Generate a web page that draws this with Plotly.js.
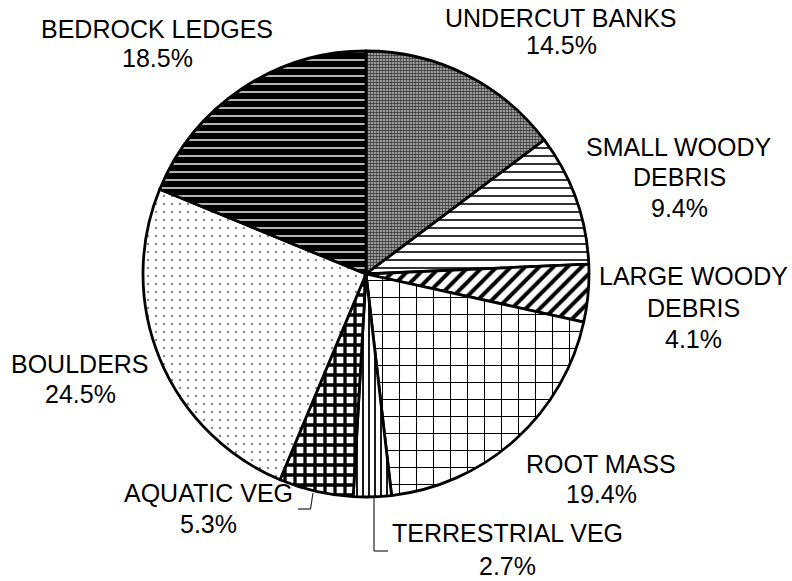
<!DOCTYPE html>
<html>
<head>
<meta charset="utf-8">
<script src="https://cdn.plot.ly/plotly-3.0.1.min.js"></script>
<style>
  html, body { margin: 0; padding: 0; background: #fff; }
  #chart { width: 792px; height: 581px; }
</style>
</head>
<body>
<div id="chart"></div>
<script>
// ---- data ----
const categories = ['UNDERCUT BANKS', 'SMALL WOODY DEBRIS', 'LARGE WOODY DEBRIS', 'ROOT MASS',
                    'TERRESTRIAL VEG', 'AQUATIC VEG', 'BOULDERS', 'BEDROCK LEDGES'];
const values = [14.5, 9.4, 4.1, 19.4, 2.7, 5.3, 24.5, 18.5];
const labelLines = [['UNDERCUT BANKS'], ['SMALL WOODY', 'DEBRIS'], ['LARGE WOODY', 'DEBRIS'],
                    ['ROOT MASS'], ['TERRESTRIAL VEG'], ['AQUATIC VEG'], ['BOULDERS'], ['BEDROCK LEDGES']];

// ---- styles / layout config ----
const W = 792, H = 581;
const cx = 366, cy = 274, R = 223;
const patShape = ['.', '-', '/', '+', '|', '+', '.', '-'];
const patFg    = ['#333333', '#000', '#000', '#000', '#000', '#000', '#8a8a8a', '#e0e0e0'];
const patBg    = ['#bdbdbd', '#fff', '#fff', '#fff', '#fff', '#fff', '#fff', '#000'];
const patSize  = [3, 8, 10, 17, 6, 10, 8, 8];
const patSol   = [0.55, 0.2, 0.4, 0.12, 0.3, 0.55, 0.08, 0.2];
// label placement (pixel centres of each text line)
const labelX = [561, 679, 693, 601, 507, 208, 80, 157];
const labelY = [[18, 45], [146.5, 177.5, 208.5], [276, 308, 339], [464, 494],
                [533, 566], [493, 524], [364, 394], [29, 58]];

const px = x => x / W;
const py = y => 1 - y / H;

const annotations = [];
categories.forEach((c, i) => {
  const lines = labelLines[i].concat([values[i].toFixed(1) + '%']);
  lines.forEach((t, j) => {
    annotations.push({
      text: t, xref: 'paper', yref: 'paper',
      x: px(labelX[i]), y: py(labelY[i][j]),
      xanchor: 'center', yanchor: 'middle', showarrow: false,
      font: {family: 'Liberation Sans, Arial, sans-serif', size: 25, color: '#000'}
    });
  });
});

const leader = (pts) => pts.slice(0, -1).map((p, k) => ({
  type: 'line', xref: 'paper', yref: 'paper',
  x0: px(p[0]), y0: py(p[1]), x1: px(pts[k + 1][0]), y1: py(pts[k + 1][1]),
  line: {color: '#222', width: 1.2}
}));
const shapes = [].concat(
  leader([[374, 497], [374, 551], [388, 551]]),
  leader([[313, 493], [310.5, 509], [298, 509]])
);

const trace = {
  type: 'pie',
  labels: categories,
  values: values,
  sort: false,
  direction: 'clockwise',
  rotation: 0,
  textinfo: 'none',
  hoverinfo: 'label+percent',
  domain: {x: [px(cx - R), px(cx + R)], y: [py(cy + R), py(cy - R)]},
  marker: {
    colors: patBg,
    line: {color: '#000', width: 2.8},
    pattern: {shape: patShape, fgcolor: patFg, bgcolor: patBg, size: patSize,
              solidity: patSol, fillmode: 'replace'}
  }
};

Plotly.newPlot('chart', [trace], {
  width: W, height: H,
  margin: {l: 0, r: 0, t: 0, b: 0},
  paper_bgcolor: '#fff',
  showlegend: false,
  annotations: annotations,
  shapes: shapes
}, {displayModeBar: false, staticPlot: true});
</script>
</body>
</html>
